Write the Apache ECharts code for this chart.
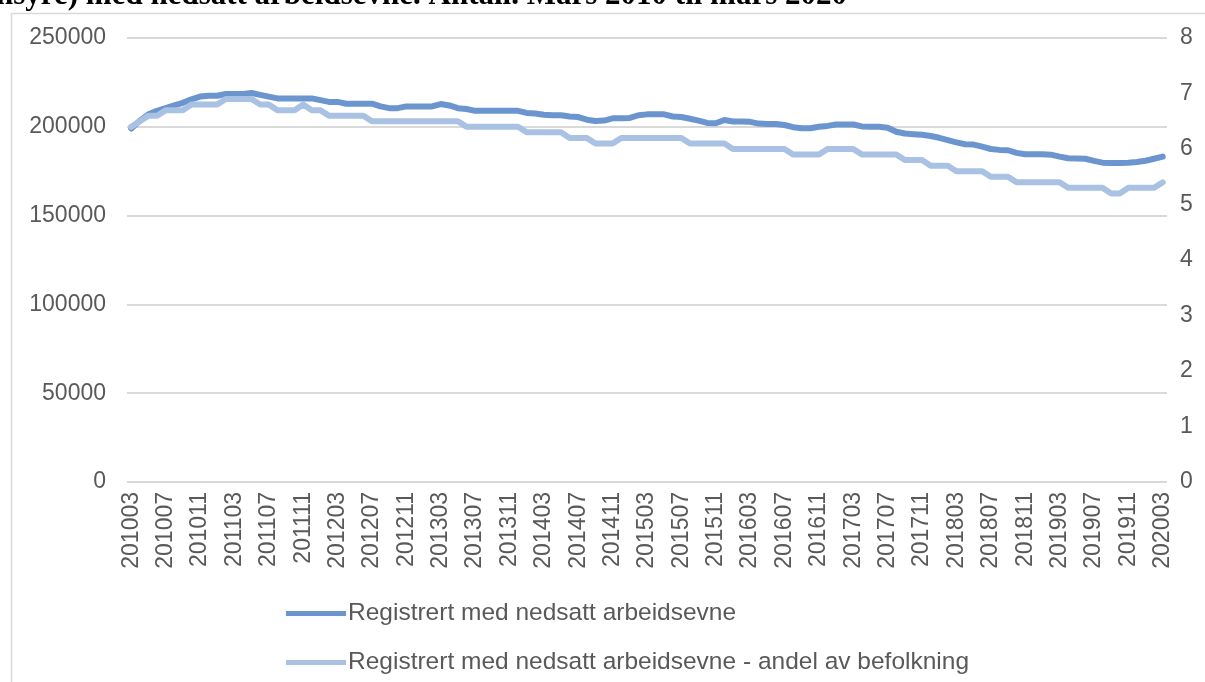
<!DOCTYPE html>
<html lang="no">
<head>
<meta charset="UTF-8">
<title>Registrert med nedsatt arbeidsevne</title>
<script src="https://cdn.jsdelivr.net/npm/echarts@6/dist/echarts.min.js"></script>
<style>
  html, body { margin: 0; padding: 0; background: #fff; }
  #main { width: 1205px; height: 682px; }
</style>
</head>
<body>
<div id="main"></div>
<script>
// months 201003 .. 202003
var months = [];
for (var y = 2010; y <= 2020; y++) {
  for (var m = 1; m <= 12; m++) {
    if (y === 2010 && m < 3) continue;
    if (y === 2020 && m > 3) break;
    months.push(String(y) + (m < 10 ? '0' + m : m));
  }
}

// Registrert med nedsatt arbeidsevne (antall, venstre akse)
var antall = [
  199000, 203500, 207000, 209000, 210500, 212000, 213500, 215500, 217000, 217500,
  217500, 218500, 218500, 218500, 219000, 218000, 217000, 216000, 216000, 216000,
  216000, 216000, 215000, 214000, 214000, 213000, 213000, 213000, 213000, 211500,
  210500, 210500, 211500, 211500, 211500, 211500, 212800, 212000, 210500, 210000,
  209000, 209000, 209000, 209000, 209000, 209000, 207800, 207500, 206800, 206500,
  206500, 205800, 205500, 204000, 203300, 203500, 204800, 204800, 205000, 206500,
  207000, 207000, 207000, 205800, 205500, 204500, 203500, 202200, 202000, 203800,
  203000, 203000, 202800, 201800, 201600, 201600, 201000, 199800, 199200, 199200,
  200000, 200500, 201300, 201300, 201300, 200200, 200000, 200000, 199500, 197200,
  196200, 195800, 195500, 194800, 193800, 192500, 191200, 190200, 190000, 188800,
  187500, 187000, 186800, 185300, 184500, 184500, 184500, 184300, 183200, 182300,
  182200, 182000, 180800, 179800, 179600, 179600, 179800, 180200, 180900, 182000,
  183200
];

// andel av befolkning (prosent, høyre akse)
var andel = [
  6.4, 6.5, 6.6, 6.6, 6.7, 6.7, 6.7, 6.8, 6.8, 6.8,
  6.8, 6.9, 6.9, 6.9, 6.9, 6.8, 6.8, 6.7, 6.7, 6.7,
  6.8, 6.7, 6.7, 6.6, 6.6, 6.6, 6.6, 6.6, 6.5, 6.5,
  6.5, 6.5, 6.5, 6.5, 6.5, 6.5, 6.5, 6.5, 6.5, 6.4,
  6.4, 6.4, 6.4, 6.4, 6.4, 6.4, 6.3, 6.3, 6.3, 6.3,
  6.3, 6.2, 6.2, 6.2, 6.1, 6.1, 6.1, 6.2, 6.2, 6.2,
  6.2, 6.2, 6.2, 6.2, 6.2, 6.1, 6.1, 6.1, 6.1, 6.1,
  6.0, 6.0, 6.0, 6.0, 6.0, 6.0, 6.0, 5.9, 5.9, 5.9,
  5.9, 6.0, 6.0, 6.0, 6.0, 5.9, 5.9, 5.9, 5.9, 5.9,
  5.8, 5.8, 5.8, 5.7, 5.7, 5.7, 5.6, 5.6, 5.6, 5.6,
  5.5, 5.5, 5.5, 5.4, 5.4, 5.4, 5.4, 5.4, 5.4, 5.3,
  5.3, 5.3, 5.3, 5.3, 5.2, 5.2, 5.3, 5.3, 5.3, 5.3,
  5.4
];

var serieNavn = [
  'Registrert med nedsatt arbeidsevne',
  'Registrert med nedsatt arbeidsevne - andel av befolkning'
];

var textGray = '#595959';
var gridGray = '#d9d9d9';
var fontAx = 'Liberation Sans, Arial, sans-serif';

var chart = echarts.init(document.getElementById('main'));

chart.setOption({
  animation: false,
  backgroundColor: '#fff',
  title: {
    text: 'nsyre) med nedsatt arbeidsevne. Antall. Mars 2010 til mars 2020',
    left: -4,
    top: -20,
    padding: 0,
    textStyle: {
      fontFamily: 'Liberation Serif, Times New Roman, serif',
      fontWeight: 'bold',
      fontSize: 31,
      lineHeight: 31,
      color: '#000'
    }
  },
  graphic: [{
    type: 'rect',
    left: 9,
    top: 11,
    shape: { width: 1400, height: 900 },
    style: { fill: 'none', stroke: gridGray, lineWidth: 1.5 },
    silent: true,
    z: -1
  }],
  legend: {
    orient: 'vertical',
    left: 281,
    top: 596,
    itemWidth: 60,
    itemHeight: 5,
    itemGap: 24,
    icon: 'rect',
    textStyle: { color: textGray, fontSize: 24.5, fontFamily: fontAx, padding: [0, 0, 0, -3] },
    data: serieNavn
  },
  grid: { left: 127, right: 38, top: 38, bottom: 200 },
  xAxis: {
    type: 'category',
    data: months,
    boundaryGap: true,
    axisLine: { show: false },
    axisTick: { show: false },
    axisLabel: {
      interval: 3,
      rotate: 90,
      margin: 10,
      color: textGray,
      fontSize: 23,
      fontFamily: fontAx
    }
  },
  yAxis: [{
    type: 'value',
    min: 0,
    max: 250000,
    interval: 50000,
    axisLine: { show: false },
    axisTick: { show: false },
    axisLabel: {
      margin: 21,
      color: textGray,
      fontSize: 23,
      fontFamily: fontAx,
      formatter: function (v) { return String(v); }
    },
    splitLine: { lineStyle: { color: gridGray, width: 2 } }
  }, {
    type: 'value',
    min: 0,
    max: 8,
    interval: 1,
    axisLine: { show: false },
    axisTick: { show: false },
    axisLabel: { margin: 13, color: textGray, fontSize: 23, fontFamily: fontAx },
    splitLine: { show: false }
  }],
  series: [{
    name: serieNavn[0],
    type: 'line',
    yAxisIndex: 0,
    data: antall,
    showSymbol: false,
    color: '#6b95ce',
    lineStyle: { width: 6, color: '#6b95ce', cap: 'round', join: 'round' }
  }, {
    name: serieNavn[1],
    type: 'line',
    yAxisIndex: 1,
    data: andel,
    showSymbol: false,
    color: '#a9c1e3',
    lineStyle: { width: 6, color: '#a9c1e3', cap: 'round', join: 'round' }
  }]
});
</script>
</body>
</html>
